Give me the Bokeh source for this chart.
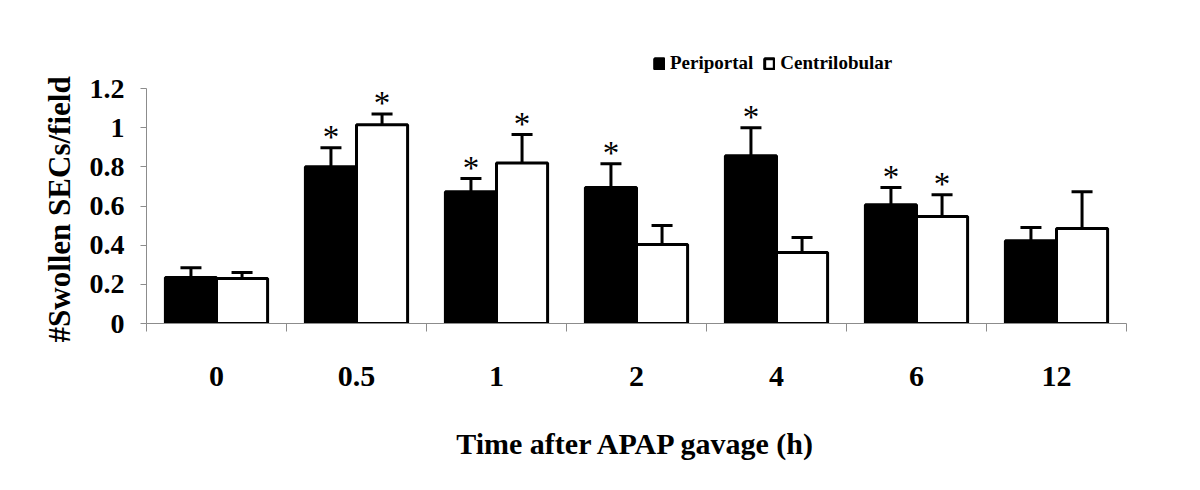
from bokeh.plotting import figure
from bokeh.models import (FixedTicker, Whisker, ColumnDataSource, Legend, LegendItem,
                          TeeHead, Range1d, Title)
from bokeh.core.properties import value
from bokeh.embed import file_html
from bokeh.resources import INLINE

# ---- data ----
time_labels = ["0", "0.5", "1", "2", "4", "6", "12"]
periportal = [0.235, 0.80, 0.673, 0.694, 0.857, 0.607, 0.423]
periportal_err = [0.050, 0.098, 0.067, 0.122, 0.143, 0.087, 0.067]
centrilobular = [0.230, 1.015, 0.820, 0.403, 0.362, 0.546, 0.485]
centrilobular_err = [0.030, 0.055, 0.145, 0.097, 0.077, 0.112, 0.188]
periportal_sig = [False, True, True, True, True, True, False]
centrilobular_sig = [False, True, True, False, False, True, False]
y_ticks = [0, 0.2, 0.4, 0.6, 0.8, 1.0, 1.2]
y_tick_labels = ["0", "0.2", "0.4", "0.6", "0.8", "1", "1.2"]

FONT = "Liberation Serif"
n = len(time_labels)
bw = 0.365
off = bw / 2

# frame: left 146, right 1126, axis 0 at y=323, 1.2 at y=88; frame top at 40
FRAME_TOP, Y0_PX, YMAX_PX = 40, 323, 88
y_top = 1.2 * (Y0_PX - FRAME_TOP) / (Y0_PX - YMAX_PX)

def src(vals, errs, sig, shift):
    xs = [i + 0.5 + shift for i in range(n)]
    tops = [v + e for v, e in zip(vals, errs)]
    return ColumnDataSource(dict(x=xs, y=vals, top=tops,
                                 star=["*" if s else "" for s in sig]))

s_pp = src(periportal, periportal_err, periportal_sig, -off)
s_cl = src(centrilobular, centrilobular_err, centrilobular_sig, off)

p = figure(width=1192, height=482, output_backend="svg", toolbar_location=None,
           x_range=Range1d(0, n), y_range=Range1d(0, y_top),
           min_border_left=146, min_border_right=66, min_border_top=FRAME_TOP,
           min_border_bottom=482 - Y0_PX)
p.outline_line_color = None
p.grid.grid_line_color = None
p.background_fill_color = "white"
p.border_fill_color = "white"

r_pp = p.vbar(x="x", top="y", bottom=0, width=bw, source=s_pp,
              fill_color="black", line_color="black", line_width=3)
r_cl = p.vbar(x="x", top="y", bottom=0, width=bw, source=s_cl,
              fill_color="white", line_color="black", line_width=3)

for s in (s_pp, s_cl):
    w = Whisker(source=s, base="x", lower="y", upper="top", line_width=3,
                line_color="black",
                upper_head=TeeHead(size=21, line_width=3, line_color="black"),
                lower_head=None)
    p.add_layout(w)
    p.text(x="x", y="top", text="star", source=s, text_align="center",
           text_baseline="middle", y_offset=-11,
           text_font=value(FONT), text_font_size="33px", text_color="black")

# x axis: labels at centres, ticks at boundaries (minor ticks)
xa = p.xaxis[0]
xa.ticker = FixedTicker(ticks=[i + 0.5 for i in range(n)],
                        minor_ticks=list(range(n + 1)))
xa.major_label_overrides = {i + 0.5: lab for i, lab in enumerate(time_labels)}
xa.major_tick_line_color = None
xa.major_tick_out = 0
xa.major_tick_in = 0
xa.minor_tick_out = 8
xa.minor_tick_in = 0
xa.minor_tick_line_color = "#8c8c8c"
xa.axis_line_color = "#8c8c8c"
xa.major_label_standoff = 35
xa.major_label_text_font = FONT
xa.major_label_text_font_style = "bold"
xa.major_label_text_font_size = "30px"
xa.major_label_text_color = "black"
xa.axis_label = "Time after APAP gavage (h)"
xa.axis_label_text_font = FONT
xa.axis_label_text_font_style = "bold"
xa.axis_label_text_font_size = "30px"
xa.axis_label_text_color = "black"
xa.axis_label_standoff = 38

ya = p.yaxis[0]
ya.ticker = FixedTicker(ticks=y_ticks, minor_ticks=[])
ya.bounds = (0, 1.2)
ya.major_label_overrides = {t: lab for t, lab in zip(y_ticks, y_tick_labels)}
ya.major_tick_out = 6
ya.major_tick_in = 0
ya.major_tick_line_color = "#8c8c8c"
ya.minor_tick_line_color = None
ya.axis_line_color = "#8c8c8c"
ya.major_label_standoff = 16
ya.major_label_text_font = FONT
ya.major_label_text_font_style = "bold"
ya.major_label_text_font_size = "28px"
ya.major_label_text_color = "black"

ytitle = Title(text="#Swollen SECs/field", align="left", offset=-19,
               vertical_align="bottom", standoff=20,
               text_font=FONT, text_font_style="bold", text_font_size="31px",
               text_color="black")
p.add_layout(ytitle, "left")

legend = Legend(items=[LegendItem(label="Periportal", renderers=[r_pp]),
                       LegendItem(label="Centrilobular", renderers=[r_cl])],
                orientation="horizontal", location=(507, 249),
                glyph_width=12, glyph_height=13, label_standoff=5, spacing=10,
                padding=0, margin=0, border_line_color=None,
                background_fill_alpha=0,
                label_text_font=FONT, label_text_font_style="bold",
                label_text_font_size="19px", label_text_color="black")
p.add_layout(legend, "center")

open("out.html", "w").write(file_html(p, INLINE))
